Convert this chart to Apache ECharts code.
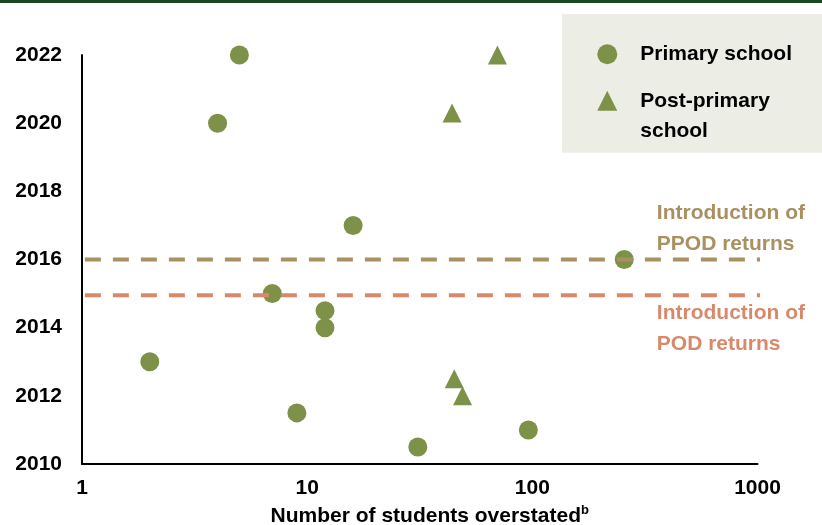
<!DOCTYPE html>
<html>
<head>
<meta charset="utf-8">
<script src="https://cdn.jsdelivr.net/npm/echarts@6/dist/echarts.min.js"></script>
<style>
  html, body { margin: 0; padding: 0; background: #fff; }
  #chart { width: 822px; height: 525px; }
</style>
</head>
<body>
<div id="chart"></div>
<script>
// values
var primaryX = [2, 4, 5, 7, 9, 12, 12, 16, 31, 96, 256];
var primaryY = [2013, 2020, 2022, 2015, 2011.5, 2014.5, 2014, 2017, 2010.5, 2011, 2016];
var postX = [44, 45, 49, 70];
var postY = [2020.3, 2012.5, 2012, 2022];
var ppodYear = 2016;
var podYear = 2014.95;
var refLineX = [1.03, 1100];

var green = '#7E9148';
var tan = '#A89060';
var orange = '#D9896A';
var font = '"Liberation Sans", Arial, sans-serif';

function pairs(xs, ys) {
  return xs.map(function (x, i) { return [x, ys[i]]; });
}

function refLine(name, year, color, text, offsetY) {
  return {
    name: name,
    type: 'line',
    z: 3,
    clip: false,
    silent: true,
    symbol: 'circle',
    symbolSize: 0,
    showSymbol: true,
    lineStyle: { color: color, width: 4, type: [16, 12] },
    itemStyle: { color: color },
    data: [
      [refLineX[0], year],
      {
        value: [refLineX[1], year],
        label: {
          show: true,
          position: 'inside',
          align: 'left',
          verticalAlign: 'middle',
          offset: [-110, offsetY],
          formatter: text,
          color: color,
          fontFamily: font,
          fontWeight: 'bold',
          fontSize: 21,
          lineHeight: 31
        }
      }
    ]
  };
}

var chart = echarts.init(document.getElementById('chart'));
chart.setOption({
  animation: false,
  backgroundColor: '#fff',
  textStyle: { fontFamily: font },
  graphic: [{
    type: 'rect',
    left: 0,
    top: 0,
    shape: { width: 822, height: 3 },
    style: { fill: '#1B4722' }
  }],
  grid: { left: 82, right: 64.5, top: 55, bottom: 61, outerBoundsMode: 'none' },
  legend: {
    orient: 'vertical',
    right: 0,
    top: 14,
    backgroundColor: '#ECEDE4',
    padding: [25.3, 30, 7, 35.3],
    itemWidth: 20,
    itemHeight: 20,
    itemGap: -13.5,
    selectedMode: false,
    textStyle: { color: '#000', fontFamily: font, fontWeight: 'bold', fontSize: 21, lineHeight: 30, padding: [0, 0, 0, 18] },
    formatter: function (name) {
      return name === 'Post-primary school' ? '\nPost-primary\nschool' : name;
    },
    data: ['Primary school', 'Post-primary school']
  },
  xAxis: {
    type: 'log',
    logBase: 10,
    min: 1,
    max: 1000,
    name: '{t|Number of students overstated}{s|b}',
    nameLocation: 'middle',
    nameGap: 36,
    nameTextStyle: {
      padding: [0, 0, 0, 20],
      rich: {
        t: { fontFamily: font, fontWeight: 'bold', fontSize: 21, color: '#000', lineHeight: 24 },
        s: { fontFamily: font, fontWeight: 'bold', fontSize: 13, color: '#000', verticalAlign: 'top', lineHeight: 14 }
      }
    },
    axisLine: { lineStyle: { color: '#000', width: 2 } },
    axisTick: { show: false },
    splitLine: { show: false },
    axisLabel: {
      color: '#000', fontFamily: font, fontWeight: 'bold', fontSize: 21, margin: 14,
      formatter: function (v) { return String(v); }
    }
  },
  yAxis: {
    type: 'value',
    min: 2010,
    max: 2022,
    interval: 2,
    axisLine: { show: true, lineStyle: { color: '#000', width: 2 } },
    axisTick: { show: false },
    splitLine: { show: false },
    axisLabel: {
      color: '#000', fontFamily: font, fontWeight: 'bold', fontSize: 21, margin: 20,
      formatter: function (v) { return String(v); }
    }
  },
  series: [
    {
      name: 'Primary school',
      type: 'scatter',
      symbol: 'circle',
      symbolSize: 19,
      itemStyle: { color: green, opacity: 1 },
      data: pairs(primaryX, primaryY)
    },
    {
      name: 'Post-primary school',
      type: 'scatter',
      symbol: 'triangle',
      symbolSize: 19,
      itemStyle: { color: green, opacity: 1 },
      data: pairs(postX, postY)
    },
    refLine('PPOD', ppodYear, tan, 'Introduction of\nPPOD returns', -31),
    refLine('POD', podYear, orange, 'Introduction of\nPOD returns', 33.5)
  ]
});
</script>
</body>
</html>
